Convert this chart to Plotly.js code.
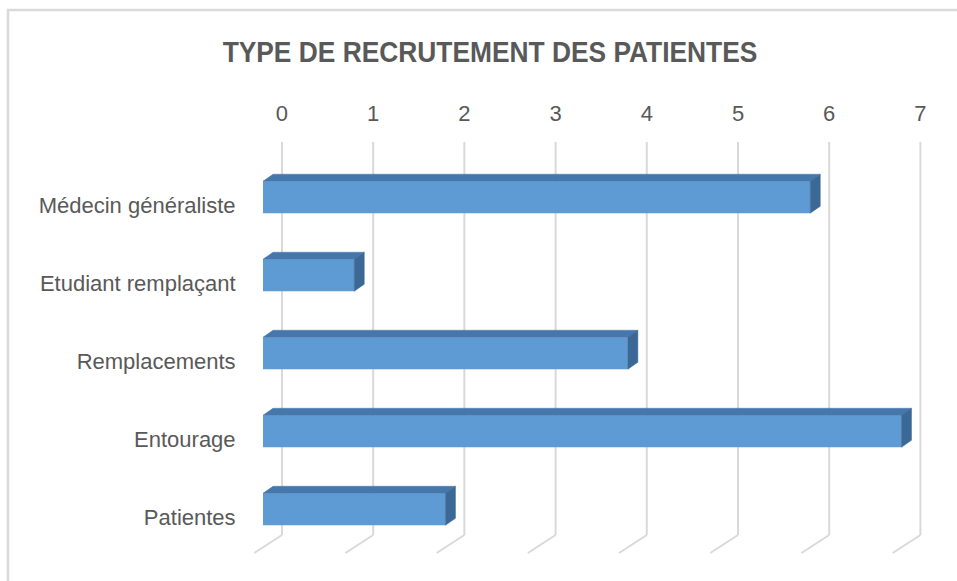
<!DOCTYPE html>
<html><head><meta charset="utf-8">
<script src="https://cdn.plot.ly/plotly-3.0.1.min.js"></script>
<style>html,body{margin:0;padding:0;background:#fff}#chart{width:957px;height:581px}</style>
</head><body><div id="chart"></div>
<script>
// ---- data ----
const categories = ["Médecin généraliste", "Etudiant remplaçant", "Remplacements", "Entourage", "Patientes"];
const values = [6, 1, 4, 7, 2];
const tickValues = [0, 1, 2, 3, 4, 5, 6, 7];
const chartTitle = "TYPE DE RECRUTEMENT DES PATIENTES";

// ---- pseudo-3D geometry (axis units) ----
const BACK_DX = 0.208;   // back wall shift of grid
const FLOOR_DX = -0.304; // floor diagonal
const FLOOR_Y = 0.0438;  // paper y where back wall meets floor
const BAR_SHIFT = -0.1;
const BAR_W = 0.41;
const DEPTH_X = 0.11, DEPTH_Y = -0.09;

const FRONT = '#5E9BD4', TOP = '#4677AC', SIDE = '#3B6894';
const TEXT = '#595959', GRID = '#D9D9D9';
const FONT = 'Liberation Sans, Arial, sans-serif';
const TITLE_WIDTH = 535; // narrow-font emulation target width (px)

const pos = categories.map((c, i) => i);
const barY = pos.map(p => p + BAR_SHIFT);

const traces = [{
  type: 'bar', orientation: 'h', x: values, y: barY, width: BAR_W,
  marker: {color: FRONT, line: {width: 0}}, hoverinfo: 'skip'
}];
values.forEach((v, i) => {
  const yT = barY[i] - BAR_W / 2, yB = barY[i] + BAR_W / 2;
  traces.push({
    type: 'scatter', mode: 'lines', fill: 'toself', fillcolor: TOP,
    line: {width: 0.5, color: TOP}, hoverinfo: 'skip',
    x: [0, v, v + DEPTH_X, DEPTH_X, 0],
    y: [yT, yT, yT + DEPTH_Y, yT + DEPTH_Y, yT]
  });
  traces.push({
    type: 'scatter', mode: 'lines', fill: 'toself', fillcolor: SIDE,
    line: {width: 0.5, color: SIDE}, hoverinfo: 'skip',
    x: [v, v + DEPTH_X, v + DEPTH_X, v, v],
    y: [yT, yT + DEPTH_Y, yB + DEPTH_Y, yB, yT]
  });
});

const shapes = [];
tickValues.forEach(t => {
  const xb = t + BACK_DX;
  shapes.push({type: 'line', layer: 'below', xref: 'x', yref: 'paper', x0: xb, x1: xb, y0: FLOOR_Y, y1: 1, line: {color: GRID, width: 2}});
  shapes.push({type: 'line', layer: 'below', xref: 'x', yref: 'paper', x0: xb, x1: xb + FLOOR_DX, y0: FLOOR_Y, y1: 0, line: {color: GRID, width: 2}});
});
// outer frame (top + left)
shapes.push({type: 'path', xref: 'paper', yref: 'paper', path: 'M -0.3533 -0.2 L -0.3533 1.3212 L 1.1 1.3212', line: {color: '#DADADA', width: 2.5}});

const layout = {
  width: 957, height: 581,
  margin: {l: 250, r: 22, t: 142, b: 28},
  paper_bgcolor: '#fff', plot_bgcolor: 'rgba(0,0,0,0)',
  showlegend: false, hovermode: false,
  title: {
    text: chartTitle, xref: 'container', yref: 'container',
    x: 0.512, xanchor: 'center', y: 1 - 52 / 581, yanchor: 'middle',
    font: {family: FONT, size: 30, weight: 700, color: TEXT}
  },
  xaxis: {
    side: 'top', range: [-0.1425, 7.368],
    tickvals: tickValues.map(t => t + BACK_DX), ticktext: tickValues.map(String),
    showgrid: false, zeroline: false, showline: false,
    ticks: 'outside', ticklen: 11, tickcolor: 'rgba(0,0,0,0)',
    tickfont: {family: FONT, size: 22, color: TEXT}
  },
  yaxis: {
    range: [4.46, -0.808],
    tickvals: pos, ticktext: categories,
    showgrid: false, zeroline: false, showline: false,
    ticks: 'outside', ticklen: 9, tickcolor: 'rgba(0,0,0,0)',
    tickfont: {family: FONT, size: 22, color: TEXT}
  },
  shapes: shapes
};

Plotly.newPlot('chart', traces, layout, {staticPlot: true, displayModeBar: false}).then(() => {
  // emulate a narrow bold face by compressing the title horizontally
  const t = document.querySelector('#chart .gtitle');
  if (t) {
    const bb = t.getBBox();
    const s = TITLE_WIDTH / bb.width;
    const cx = bb.x + bb.width / 2;
    t.setAttribute('transform', `translate(${cx},0) scale(${s},1) translate(${-cx},0)`);
  }
});
</script>
</body></html>
